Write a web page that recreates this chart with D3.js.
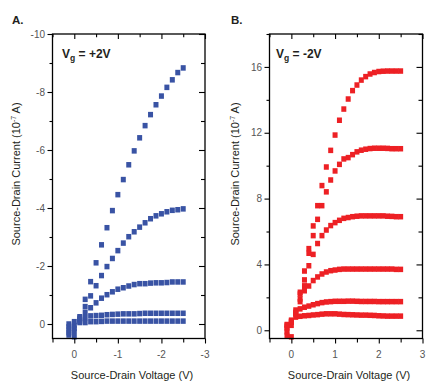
<!DOCTYPE html>
<html><head><meta charset="utf-8">
<script src="https://cdn.jsdelivr.net/npm/d3@7"></script>
<style>body{margin:0;background:#fff} svg{display:block}</style>
</head><body>
<svg id="c" width="442" height="387"></svg>
<script>
// ---------- Panel A data (Vg = +2V) ----------
const aVoltage = [0.125, 0, -0.125, -0.25, -0.375, -0.5, -0.625, -0.75, -0.875, -1, -1.125, -1.25, -1.375, -1.5, -1.625, -1.75, -1.875, -2, -2.125, -2.25, -2.375, -2.5];
const aCurve1 = [0.38, 0.44, -0.25, -0.85, -1.46, -2.11, -2.73, -3.32, -3.91, -4.46, -4.98, -5.49, -5.97, -6.42, -6.84, -7.22, -7.56, -7.86, -8.16, -8.42, -8.67, -8.83];
const aCurve2 = [0.3, 0.25, -0.2, -0.6, -0.97, -1.32, -1.67, -1.98, -2.26, -2.53, -2.79, -3.01, -3.18, -3.34, -3.49, -3.63, -3.73, -3.80, -3.87, -3.92, -3.94, -3.97];
const aCurve3 = [0.2, 0.15, -0.15, -0.4, -0.56, -0.73, -0.89, -1.01, -1.11, -1.20, -1.25, -1.31, -1.36, -1.39, -1.39, -1.41, -1.42, -1.42, -1.43, -1.45, -1.45, -1.45];
const aCurve4 = [0.1, 0.05, -0.1, -0.22, -0.28, -0.29, -0.30, -0.32, -0.33, -0.34, -0.35, -0.35, -0.35, -0.36, -0.37, -0.37, -0.37, -0.37, -0.37, -0.37, -0.37, -0.37];
const aCurve5 = [0.0, -0.08, -0.05, -0.05, -0.08, -0.08, -0.09, -0.1, -0.1, -0.1, -0.1, -0.1, -0.1, -0.1, -0.1, -0.1, -0.1, -0.1, -0.1, -0.1, -0.1, -0.1];
const aXTicks = [0.5, 0, -0.5, -1, -1.5, -2, -2.5, -3];
const aXLabels = [0, -1, -2, -3];
const aYTicks = [-10, -9, -8, -7, -6, -5, -4, -3, -2, -1, 0];
const aYLabels = [-10, -8, -6, -4, -2, 0];

// ---------- Panel B data (Vg = -2V) ----------
const bVoltage = [-0.1, 0, 0.1, 0.2, 0.3, 0.4, 0.5, 0.6, 0.7, 0.8, 0.9, 1.0, 1.1, 1.2, 1.3, 1.4, 1.5, 1.6, 1.7, 1.8, 1.9, 2.0, 2.1, 2.2, 2.3, 2.4, 2.5];
const bCurve1 = [-0.1, 0.3, 1.23, 2.31, 3.6, 4.96, 6.34, 7.57, 8.79, 9.92, 10.93, 11.86, 12.76, 13.44, 14.05, 14.56, 14.9, 15.2, 15.41, 15.57, 15.66, 15.72, 15.74, 15.75, 15.75, 15.75, 15.75];
const bCurve2 = [-0.3, -0.4, 1.0, 2.2, 3.06, 4.68, 5.75, 6.74, 7.57, 8.41, 9.13, 9.68, 10.08, 10.41, 10.49, 10.67, 10.84, 10.94, 11.0, 11.04, 11.06, 11.06, 11.06, 11.05, 11.03, 11.03, 11.03];
const bCurve3 = [0.1, 0.5, 1.0, 1.9, 2.7, 3.92, 4.61, 5.27, 5.75, 6.09, 6.36, 6.54, 6.68, 6.80, 6.85, 6.90, 6.93, 6.95, 6.95, 6.95, 6.95, 6.95, 6.95, 6.93, 6.92, 6.90, 6.90];
const bCurve4 = [0.2, 0.6, 1.1, 1.74, 2.4, 2.69, 3.02, 3.24, 3.42, 3.54, 3.62, 3.66, 3.70, 3.72, 3.72, 3.72, 3.72, 3.72, 3.72, 3.72, 3.72, 3.72, 3.72, 3.72, 3.72, 3.70, 3.70];
const bCurve5 = [0.3, 0.6, 1.05, 1.3, 1.4, 1.47, 1.55, 1.62, 1.68, 1.72, 1.74, 1.76, 1.76, 1.76, 1.77, 1.77, 1.76, 1.75, 1.75, 1.75, 1.75, 1.74, 1.74, 1.74, 1.74, 1.74, 1.74];
const bCurve6 = [0.35, 0.5, 0.8, 0.85, 0.88, 0.9, 0.93, 0.95, 0.98, 1.0, 1.0, 1.0, 0.98, 0.96, 0.95, 0.94, 0.93, 0.92, 0.92, 0.91, 0.90, 0.88, 0.87, 0.86, 0.86, 0.86, 0.86];
const bXTicks = [-0.5, 0, 0.5, 1, 1.5, 2, 2.5, 3];
const bXLabels = [0, 1, 2, 3];
const bYTicks = [0, 2, 4, 6, 8, 10, 12, 14, 16, 18];
const bYLabels = [0, 4, 8, 12, 16];

const svg = d3.select('#c');
const font = "'Liberation Sans', Arial, sans-serif";
const tickColor = '#555';
const textColor = '#231f20';

function panel(cfg) {
  const x = d3.scaleLinear().domain(cfg.xDomain).range([cfg.left, cfg.right]);
  const y = d3.scaleLinear().domain(cfg.yDomain).range([cfg.bottom, cfg.top]);
  const g = svg.append('g');

  cfg.series.forEach(s => {
    g.append('g').selectAll('rect')
      .data(cfg.xs.map((v, i) => [v, s[i]]))
      .join('rect')
      .attr('x', d => x(d[0]) - 2.5)
      .attr('y', d => y(d[1]) - 2.75)
      .attr('width', 5)
      .attr('height', 5.5)
      .attr('fill', cfg.color);
  });

  const isMajX = d => cfg.xLabels.some(v => Math.abs(v - d) < 1e-9);
  const isMajY = d => cfg.yLabels.some(v => Math.abs(v - d) < 1e-9);

  // bottom axis (ticks outward)
  const gb = g.append('g').attr('transform', `translate(0,${cfg.bottom})`)
    .call(d3.axisBottom(x).tickValues(cfg.xTicks).tickSize(5).tickFormat(''));
  gb.selectAll('.tick line').attr('y2', d => isMajX(d) ? 5 : 4);
  // top axis (ticks inward)
  const gt = g.append('g').attr('transform', `translate(0,${cfg.top})`)
    .call(d3.axisTop(x).tickValues(cfg.xTicks).tickSize(-5).tickFormat(''));
  gt.selectAll('.tick line').attr('y2', d => isMajX(d) ? 5 : 3.3);
  // left axis (ticks outward)
  const gl = g.append('g').attr('transform', `translate(${cfg.left},0)`)
    .call(d3.axisLeft(y).tickValues(cfg.yTicks).tickSize(5).tickFormat(''));
  gl.selectAll('.tick line').attr('x2', d => isMajY(d) ? -5 : -3);
  // right axis (ticks inward)
  const gr = g.append('g').attr('transform', `translate(${cfg.right},0)`)
    .call(d3.axisRight(y).tickValues(cfg.yTicks).tickSize(-5).tickFormat(''));
  gr.selectAll('.tick line').attr('x2', d => isMajY(d) ? -6 : -4);

  [gb, gt, gl, gr].forEach(a => {
    a.select('.domain').remove();
    a.selectAll('.tick line').attr('stroke', '#000').attr('stroke-width', 1.1);
  });

  // frame
  g.append('rect')
    .attr('x', cfg.left).attr('y', cfg.top)
    .attr('width', cfg.right - cfg.left).attr('height', cfg.bottom - cfg.top)
    .attr('fill', 'none').attr('stroke', '#000').attr('stroke-width', 1.3);

  // tick labels
  g.append('g').selectAll('text').data(cfg.xLabels).join('text')
    .attr('x', d => x(d)).attr('y', 358)
    .attr('text-anchor', 'middle')
    .attr('font-family', font).attr('font-size', 10).attr('fill', tickColor)
    .text(d => String(d));
  g.append('g').selectAll('text').data(cfg.yLabels).join('text')
    .attr('x', cfg.left - 7.5).attr('y', d => y(d) + 3.6)
    .attr('text-anchor', 'end')
    .attr('font-family', font).attr('font-size', 10).attr('fill', tickColor)
    .text(d => String(d));

  // panel letter
  g.append('text').attr('x', cfg.letterX).attr('y', 24)
    .attr('font-family', font).attr('font-size', 11.5).attr('font-weight', 'bold')
    .attr('fill', textColor).text(cfg.letter);

  // gate label
  const vt = g.append('text').attr('x', cfg.vgX).attr('y', 58)
    .attr('font-family', font).attr('font-size', 12).attr('font-weight', 'bold')
    .attr('fill', textColor);
  vt.append('tspan').text('V');
  vt.append('tspan').attr('dy', 3).attr('font-size', 8.5).text('g');
  vt.append('tspan').attr('dy', -3).text(cfg.vgText);

  // x title
  g.append('text').attr('x', cfg.xTitleX).attr('y', 379)
    .attr('text-anchor', 'middle')
    .attr('font-family', font).attr('font-size', 11).attr('fill', textColor)
    .text('Source-Drain Voltage (V)');

  // y title
  const yt = g.append('text')
    .attr('transform', `translate(${cfg.yTitleX},174) rotate(-90)`)
    .attr('text-anchor', 'middle')
    .attr('font-family', font).attr('font-size', 11).attr('fill', textColor);
  yt.append('tspan').text('Source-Drain Current (10');
  yt.append('tspan').attr('dy', -4).attr('font-size', 7).text('-7');
  yt.append('tspan').attr('dy', 4).text(' A)');
}

panel({
  xDomain: [0.5, -3], yDomain: [0.5, -10],
  left: 52.5, right: 205, top: 34, bottom: 338.5,
  xs: aVoltage, series: [aCurve1, aCurve2, aCurve3, aCurve4, aCurve5],
  color: '#3953a4',
  xTicks: aXTicks, xLabels: aXLabels, yTicks: aYTicks, yLabels: aYLabels,
  letter: 'A.', letterX: 12, vgX: 62, vgText: ' = +2V',
  xTitleX: 132, yTitleX: 20
});

panel({
  xDomain: [-0.5, 3], yDomain: [-0.5, 18],
  left: 269.5, right: 422.5, top: 34, bottom: 338.5,
  xs: bVoltage, series: [bCurve1, bCurve2, bCurve3, bCurve4, bCurve5, bCurve6],
  color: '#ed2024',
  xTicks: bXTicks, xLabels: bXLabels, yTicks: bYTicks, yLabels: bYLabels,
  letter: 'B.', letterX: 231, vgX: 276, vgText: ' = -2V',
  xTitleX: 349, yTitleX: 239
});
</script>
</body></html>
